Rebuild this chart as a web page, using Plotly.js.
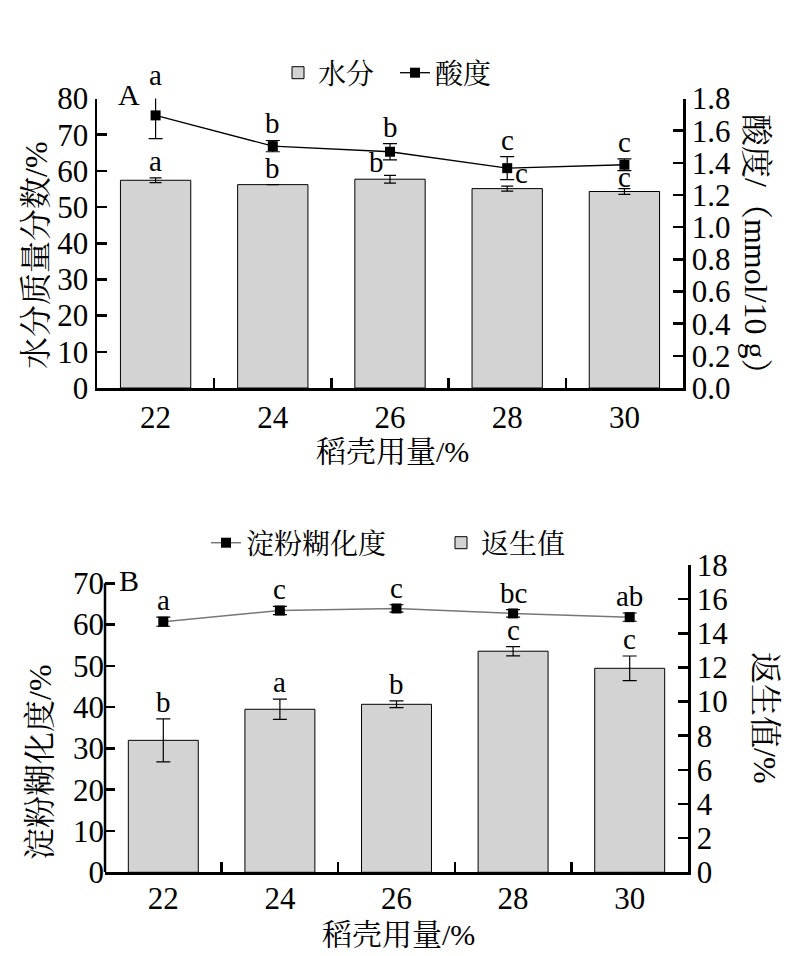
<!DOCTYPE html>
<html>
<head>
<meta charset="utf-8">
<script src="https://cdn.plot.ly/plotly-3.0.1.min.js"></script>
<style>html,body{margin:0;padding:0;background:#fff;}#chart{width:794px;height:956px;}</style>
</head>
<body>
<div id="chart"></div>
<script>
// ---------- data ----------
const doses = [22, 24, 26, 28, 30];
const doseLabels = ['22', '24', '26', '28', '30'];

// Panel A
const moisture = [57.4, 56.2, 57.7, 55.1, 54.3];
const moistureErr = [0.64, 0, 1.06, 0.69, 0.78];
const moistureLetters = ['a', 'b', 'b', 'c', 'c'];
const acidity = [1.695, 1.504, 1.469, 1.367, 1.388];
const acidityErr = [0.145, 0.035, 0.05, 0.072, 0.036];
const acidityLetters = ['a', 'b', 'b', 'c', 'c'];
const moistureTicks = [0, 10, 20, 30, 40, 50, 60, 70, 80];
const acidityTicks = [0, 0.2, 0.4, 0.6, 0.8, 1.0, 1.2, 1.4, 1.6, 1.8];

// Panel B
const gelatinization = [60.7, 63.4, 63.9, 62.7, 61.8];
const gelErr = [1.1, 1.0, 0.9, 0.9, 1.0];
const gelLetters = ['a', 'c', 'c', 'bc', 'ab'];
const retro = [7.73, 9.55, 9.84, 12.95, 11.95];
const retroErr = [1.26, 0.59, 0.2, 0.27, 0.72];
const retroLetters = ['b', 'a', 'b', 'c', 'c'];
const gelTicks = [0, 10, 20, 30, 40, 50, 60, 70];
const retroTicks = [0, 2, 4, 6, 8, 10, 12, 14, 16, 18];

// ---------- styling ----------
const W = 794, H = 956;
const SERIF = '"Liberation Serif", "Times New Roman", "Noto Serif CJK SC", "Noto Sans CJK SC", serif';
const px = v => v / W;
const py = v => 1 - v / H;
const midTicks = doses.slice(0, -1).map((d, i) => (d + doses[i + 1]) / 2);
const xRange = [doses[0] - 1, doses[doses.length - 1] + 1];

const tickFont = {family: SERIF, size: 31, color: '#000'};
const AX = {
  showline: true, linecolor: '#000', linewidth: 2.5,
  ticks: 'inside', ticklen: 10, tickwidth: 2.5, tickcolor: '#000',
  showgrid: false, zeroline: false, tickfont: tickFont, fixedrange: true
};

const errStyle = (arr) => ({type: 'data', array: arr, visible: true, color: '#000', thickness: 1.2, width: 6});

const traces = [
  // Panel A
  {type: 'bar', name: '水分', x: doses, y: moisture, width: 1.2,
   marker: {color: '#d3d3d3', line: {color: '#000', width: 1}},
   error_y: errStyle(moistureErr), xaxis: 'x', yaxis: 'y', legend: 'legend'},
  {type: 'scatter', mode: 'lines+markers', name: '酸度', x: doses, y: acidity,
   line: {color: '#000', width: 1.3}, marker: {symbol: 'square', size: 10, color: '#000'},
   error_y: Object.assign(errStyle(acidityErr), {width: 7}), cliponaxis: false,
   xaxis: 'x', yaxis: 'y2', legend: 'legend'},
  {type: 'scatter', x: [], y: [], xaxis: 'x3', yaxis: 'y', showlegend: false, hoverinfo: 'skip'},
  // Panel B
  {type: 'scatter', mode: 'lines+markers', name: '淀粉糊化度', x: doses, y: gelatinization,
   line: {color: '#777', width: 1.5}, marker: {symbol: 'square', size: 10, color: '#000'},
   error_y: Object.assign(errStyle(gelErr), {width: 7}), cliponaxis: false,
   xaxis: 'x2', yaxis: 'y3', legend: 'legend2'},
  {type: 'bar', name: '返生值', x: doses, y: retro, width: 1.2,
   marker: {color: '#d3d3d3', line: {color: '#000', width: 1}},
   error_y: Object.assign(errStyle(retroErr), {width: 7}), xaxis: 'x2', yaxis: 'y4', legend: 'legend2'},
  {type: 'scatter', x: [], y: [], xaxis: 'x4', yaxis: 'y3', showlegend: false, hoverinfo: 'skip'}
];

const topX = [px(97), px(683)], topY = [py(388), py(98.5)];
const botX = [px(105), px(688)], botY = [py(872.3), py(565)];
const gelTop = 74.43;
const axisMax = {y: 80, y2: 1.8, y3: gelTop, y4: 18};

const letterFont = {family: SERIF, size: 29, color: '#000'};
function letters(xs, vals, errs, labs, xref, yref, shifts) {
  return labs.map((t, i) => {
    const top = vals[i] + errs[i];
    const out = top > axisMax[yref];
    return {
      text: t, x: xs[i], xref: xref,
      y: out ? top / axisMax[yref] : top, yref: out ? yref + ' domain' : yref,
      xanchor: 'center', yanchor: 'bottom', showarrow: false, font: letterFont,
      xshift: (shifts && shifts[i]) ? shifts[i][0] : 0,
      yshift: ((shifts && shifts[i]) ? shifts[i][1] : 0) - 1
    };
  });
}
const titleFont = {family: SERIF, size: 32, color: '#000'};
function txt(text, x, y, angle, size) {
  return {text: text, x: px(x), y: py(y), xref: 'paper', yref: 'paper', showarrow: false,
          xanchor: 'center', yanchor: 'middle', textangle: angle || 0,
          font: Object.assign({}, titleFont, size ? {size: size} : {})};
}

const annotations = [].concat(
  letters(doses, acidity, acidityErr, acidityLetters, 'x', 'y2', null),
  letters(doses, moisture, moistureErr, moistureLetters, 'x', 'y',
          [[0, 0], [0, 0], [-14, -4], [14, -4], [0, -5]]),
  letters(doses, gelatinization, gelErr, gelLetters, 'x2', 'y3', null),
  letters(doses, retro, retroErr, retroLetters, 'x2', 'y4', null),
  [
    txt('A', 129, 94, 0, 30),
    txt('B', 129, 580, 0, 30),
    txt('稻壳用量/%', 392, 451, 0, 30),
    txt('稻壳用量/%', 398, 934, 0, 30),
    txt('水分质量分数/%', 36, 255, -90),
    txt('酸度/（mmol/10 g）', 756, 252, 90),
    txt('淀粉糊化度/%', 40, 762, -90),
    txt('返生值/%', 765, 718, 90)
  ]
);

const shapes = [
  // left axis line of panel B only reaches the last labelled tick
  {type: 'line', xref: 'x2 domain', yref: 'y3', x0: 0, x1: 0, y0: 0, y1: gelTicks[gelTicks.length - 1],
   line: {color: '#000', width: 2.5}}
];

const legendFont = {family: SERIF, size: 28, color: '#000'};
const layout = {
  width: W, height: H, margin: {l: 0, r: 0, t: 0, b: 0},
  paper_bgcolor: '#fff', plot_bgcolor: 'rgba(0,0,0,0)',
  font: {family: SERIF, color: '#000'},
  barmode: 'overlay',
  xaxis: Object.assign({}, AX, {domain: topX, anchor: 'y', range: xRange,
    tickvals: doses, ticktext: doseLabels, ticks: ''}),
  xaxis3: Object.assign({}, AX, {overlaying: 'x', anchor: 'y', range: xRange,
    tickvals: midTicks, showticklabels: false, showline: false}),
  yaxis: Object.assign({}, AX, {domain: topY, anchor: 'x', range: [0, 80],
    tickvals: moistureTicks}),
  yaxis2: Object.assign({}, AX, {overlaying: 'y', side: 'right', anchor: 'x', range: [0, 1.8],
    tickvals: acidityTicks, tickformat: '.1f'}),
  xaxis2: Object.assign({}, AX, {domain: botX, anchor: 'y3', range: xRange,
    tickvals: doses, ticktext: doseLabels, ticks: '', ticklabelstandoff: -3}),
  xaxis4: Object.assign({}, AX, {overlaying: 'x2', anchor: 'y3', range: xRange,
    tickvals: midTicks, showticklabels: false, showline: false}),
  yaxis3: Object.assign({}, AX, {domain: botY, anchor: 'x2', range: [0, gelTop],
    tickvals: gelTicks, showline: false}),
  yaxis4: Object.assign({}, AX, {overlaying: 'y3', side: 'right', anchor: 'x2', range: [0, 18],
    tickvals: retroTicks}),
  legend: {x: px(278), xanchor: 'left', y: py(73), yanchor: 'middle', orientation: 'h',
    entrywidth: 72, font: legendFont, bgcolor: 'rgba(0,0,0,0)'},
  legend2: {x: px(206), xanchor: 'left', y: py(543), yanchor: 'middle', orientation: 'h',
    entrywidth: 190, font: legendFont, bgcolor: 'rgba(0,0,0,0)'},
  annotations: annotations,
  shapes: shapes,
  showlegend: true
};

Plotly.newPlot('chart', traces, layout, {staticPlot: true, displayModeBar: false});
</script>
</body>
</html>
